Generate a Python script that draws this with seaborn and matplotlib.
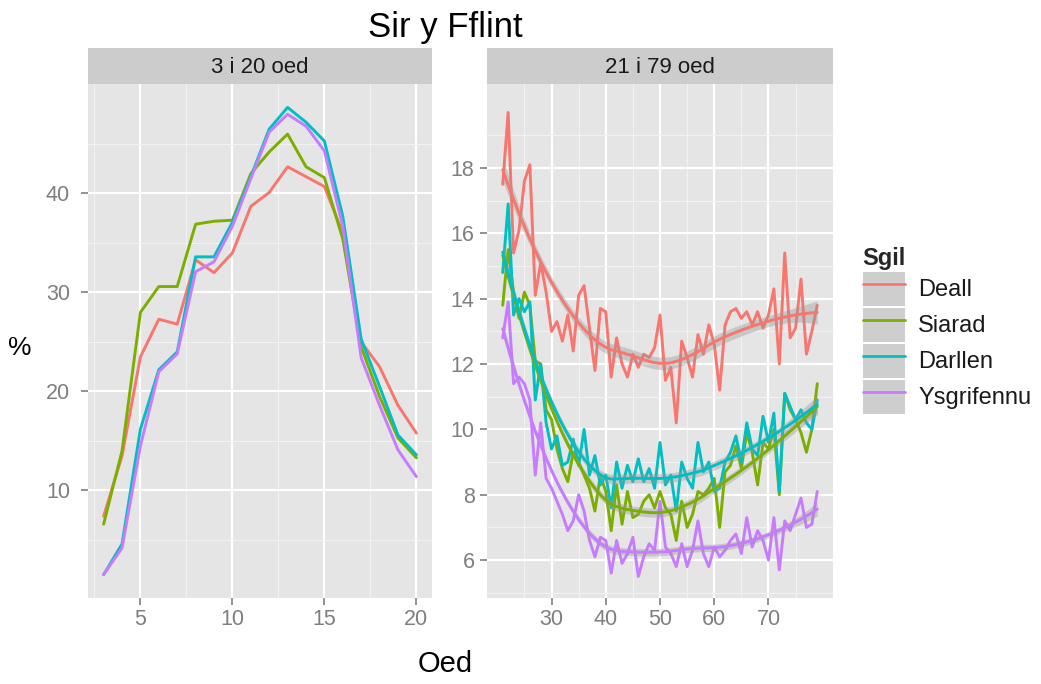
import numpy as np
import pandas as pd
import matplotlib
matplotlib.use("Agg")
import matplotlib.pyplot as plt
import seaborn as sns
from matplotlib.lines import Line2D
from matplotlib.patches import Patch
from matplotlib.ticker import MultipleLocator

# ---------------- data ----------------
skills = ["Deall", "Siarad", "Darllen", "Ysgrifennu"]
colors = ["#F8766D", "#7CAE00", "#00BFC4", "#C77CFF"]

ages_young = list(range(3, 21))
young_deall = [7.4, 13.5, 23.5, 27.3, 26.8, 33.3, 32.0, 34.0, 38.7, 40.1, 42.7, 41.7, 40.7, 36.0, 25.0, 22.5, 18.6, 15.8]
young_siarad = [6.6, 14.0, 28.0, 30.6, 30.6, 36.9, 37.2, 37.3, 42.0, 44.2, 46.0, 42.7, 41.6, 35.4, 24.5, 19.5, 15.3, 13.3]
young_darllen = [1.5, 4.6, 16.2, 22.2, 24.0, 33.6, 33.6, 37.1, 41.7, 46.5, 48.7, 47.2, 45.3, 37.7, 25.3, 20.5, 15.6, 13.6]
young_ysgrifennu = [1.5, 4.2, 14.5, 22.0, 23.8, 32.1, 33.1, 36.7, 41.5, 46.2, 48.0, 46.8, 44.3, 36.7, 23.4, 18.6, 14.1, 11.4]

ages_adult = list(range(21, 80))
adult_deall = [17.5, 19.7, 15.4, 16.1, 17.6, 18.1, 14.1, 15.1, 14.2, 13.0,
               13.3, 12.7, 13.5, 12.4, 14.1, 14.4, 13.1, 11.8, 13.7, 13.6,
               11.6, 12.8, 12.0, 11.6, 12.3, 11.9, 12.3, 12.2, 12.5, 13.5,
               11.5, 11.9, 10.2, 12.7, 12.2, 11.6, 12.9, 12.3, 13.2, 12.6,
               11.2, 13.2, 13.6, 13.7, 13.4, 13.6, 13.2, 13.6, 13.1, 13.5,
               14.3, 12.0, 15.4, 12.8, 13.1, 14.6, 12.3, 13.0, 13.8]
adult_siarad = [13.8, 15.5, 14.2, 13.4, 14.2, 13.8, 12.1, 12.0, 10.6, 10.3,
                9.4, 8.8, 8.4, 9.3, 9.0, 8.6, 8.2, 7.5, 8.6, 8.1,
                6.9, 8.3, 7.1, 8.1, 7.3, 7.4, 7.8, 8.0, 7.6, 8.1,
                7.6, 7.4, 6.6, 7.8, 7.0, 7.4, 8.1, 8.0, 8.2, 8.5,
                7.0, 8.7, 8.9, 9.5, 8.8, 9.9, 9.3, 8.3, 9.6, 9.4,
                10.0, 8.0, 11.1, 10.6, 10.3, 9.9, 9.3, 10.0, 11.4]
adult_darllen = [14.8, 16.9, 13.5, 14.0, 13.6, 13.9, 10.9, 12.0, 10.2, 9.4,
                 9.8, 8.9, 9.0, 9.7, 8.9, 10.0, 8.6, 9.2, 8.3, 8.6,
                 7.6, 9.0, 8.2, 8.9, 8.4, 9.1, 8.4, 8.8, 8.2, 9.6,
                 8.3, 8.6, 7.5, 9.0, 8.5, 8.2, 9.6, 8.7, 9.0, 8.1,
                 8.2, 9.0, 9.3, 9.8, 9.0, 10.2, 9.4, 9.2, 10.4, 9.6,
                 10.5, 8.1, 11.1, 10.7, 10.3, 10.6, 10.2, 10.0, 10.9]
adult_ysgrifennu = [12.8, 13.9, 11.4, 11.6, 11.4, 10.9, 8.6, 10.2, 8.5, 8.2,
                    7.8, 7.4, 6.9, 7.2, 8.0, 7.5, 6.6, 6.1, 6.7, 6.6,
                    5.6, 6.6, 5.9, 6.2, 6.7, 5.5, 6.1, 6.5, 6.3, 7.8,
                    6.4, 6.2, 5.8, 6.5, 5.8, 6.3, 7.2, 6.2, 5.8, 6.4,
                    6.1, 6.3, 6.6, 6.8, 6.2, 7.3, 6.4, 6.9, 6.6, 6.0,
                    7.3, 5.7, 7.2, 6.9, 7.4, 7.9, 7.0, 7.1, 8.1]

title = "Sir y Fflint"
strip_labels = ["3 i 20 oed", "21 i 79 oed"]
xlabel = "Oed"
ylabel = "%"
legend_title = "Sgil"

young = pd.DataFrame({
    "Oed": ages_young * 4,
    "pct": young_deall + young_siarad + young_darllen + young_ysgrifennu,
    "Sgil": sum([[s] * len(ages_young) for s in skills], []),
})
adult = pd.DataFrame({
    "Oed": ages_adult * 4,
    "pct": adult_deall + adult_siarad + adult_darllen + adult_ysgrifennu,
    "Sgil": sum([[s] * len(ages_adult) for s in skills], []),
})

# ---------------- loess smoother (like geom_smooth default) ----------------
def loess_fit(x, y, xg, span=0.75):
    x = np.asarray(x, float); y = np.asarray(y, float)
    n = len(x); q = int(np.floor(n * span))

    def rowvec(x0):
        d = np.abs(x - x0)
        h = np.sort(d)[q - 1] * (1 + 1e-9)
        w = np.clip(1 - (d / h) ** 3, 0, None) ** 3
        X = np.vstack([np.ones(n), x - x0, (x - x0) ** 2]).T
        XtW = X.T * w
        A = np.linalg.solve(XtW @ X, XtW)
        return A[0]

    L = np.array([rowvec(x0) for x0 in x])
    res = y - L @ y
    I = np.eye(n)
    d1 = np.trace((I - L).T @ (I - L))
    sigma2 = res @ res / d1
    Lg = np.array([rowvec(x0) for x0 in xg])
    fit = Lg @ y
    se = np.sqrt(sigma2 * np.sum(Lg ** 2, axis=1))
    return fit, se

# ---------------- style ----------------
sns.set_theme(style="darkgrid")
plt.rcParams["font.family"] = ["Liberation Sans", "DejaVu Sans"]
PANEL = "#E5E5E5"
STRIP = "#CCCCCC"
TICKC = "#7F7F7F"

fig = plt.figure(figsize=(10.41, 6.84), dpi=100)
W, H = 1041, 684

def fx(px): return px / W
def fy(py): return 1 - py / H

ax1 = fig.add_axes([fx(88), fy(598), fx(432) - fx(88), fy(84) - fy(598)])
ax2 = fig.add_axes([fx(487), fy(598), fx(833) - fx(487), fy(84) - fy(598)])

palette = dict(zip(skills, colors))

sns.lineplot(data=young, x="Oed", y="pct", hue="Sgil", palette=palette,
             hue_order=skills, ax=ax1, legend=False, linewidth=2.1)
sns.lineplot(data=adult, x="Oed", y="pct", hue="Sgil", palette=palette,
             hue_order=skills, ax=ax2, legend=False, linewidth=2.1)

xg = np.linspace(min(ages_adult), max(ages_adult), 120)
for s, c in zip(skills, colors):
    sub = adult[adult["Sgil"] == s]
    fit, se = loess_fit(sub["Oed"].values, sub["pct"].values, xg)
    band = 0.75 * se
    ax2.fill_between(xg, fit - band, fit + band, color="#999999",
                     alpha=0.4, linewidth=0, zorder=3)
    ax2.plot(xg, fit, color=c, linewidth=2.1, zorder=4)

for ax, pad in ((ax1, 8), (ax2, 4)):
    ax.set_facecolor(PANEL)
    ax.set_axisbelow(True)
    for sp in ax.spines.values():
        sp.set_visible(False)
    ax.grid(which="major", color="white", linewidth=1.6)
    ax.grid(which="minor", color="#F2F2F2", linewidth=0.8)
    ax.tick_params(which="major", axis="both", colors=TICKC, labelcolor=TICKC,
                   length=5, width=1.2, labelsize=15.5, pad=3, bottom=True, left=True)
    ax.tick_params(which="major", axis="y", pad=pad)
    ax.tick_params(which="minor", length=0)
    ax.set_xlabel("")
    ax.set_ylabel("")

# left panel scales
ax1.set_xlim(2.15, 20.85)
ax1.set_ylim(-0.86, 51.06)
ax1.set_xticks([5, 10, 15, 20])
ax1.set_xticks([2.5, 7.5, 12.5, 17.5], minor=True)
ax1.set_yticks([10, 20, 30, 40])
ax1.set_yticks([5, 15, 25, 35, 45], minor=True)

# right panel scales
ax2.set_xlim(18.1, 81.9)
ax2.set_ylim(4.84, 20.57)
ax2.set_xticks([30, 40, 50, 60, 70])
ax2.set_xticks([25, 35, 45, 55, 65, 75], minor=True)
ax2.set_yticks([6, 8, 10, 12, 14, 16, 18])
ax2.set_yticks([5, 7, 9, 11, 13, 15, 17, 19], minor=True)

# strips
for (l, r), lab in zip([(88, 432), (487, 833)], strip_labels):
    sax = fig.add_axes([fx(l), fy(84), fx(r) - fx(l), fy(48) - fy(84)])
    sax.set_facecolor(STRIP)
    sax.set_xticks([]); sax.set_yticks([])
    for sp in sax.spines.values():
        sp.set_visible(False)
    sax.grid(False)
    sax.text(0.5, 0.45, lab, ha="center", va="center", fontsize=16,
             color="#1A1A1A", transform=sax.transAxes)

fig.text(fx(445), fy(27), title, ha="center", va="center", fontsize=25, color="black")
fig.text(fx(445), fy(664), xlabel, ha="center", va="center", fontsize=21, color="black")
fig.text(fx(20), fy(348), ylabel, ha="center", va="center", fontsize=19, color="black")

handles = [(Patch(facecolor="#CECECE", edgecolor="none"), Line2D([], [], color=c, linewidth=2.0))
           for c in colors]
leg = fig.legend(handles, skills, title=legend_title, loc="upper left",
                 bbox_to_anchor=(fx(858), fy(242)), frameon=False,
                 handlelength=1.8, handleheight=1.85, labelspacing=0.08,
                 handletextpad=0.55, fontsize=17, borderaxespad=0, borderpad=0.2,
                 alignment="left",
                 title_fontproperties={"weight": "bold", "size": 17})
for t in leg.get_texts():
    t.set_color("#1A1A1A")

fig.savefig("out.png", dpi=100)
